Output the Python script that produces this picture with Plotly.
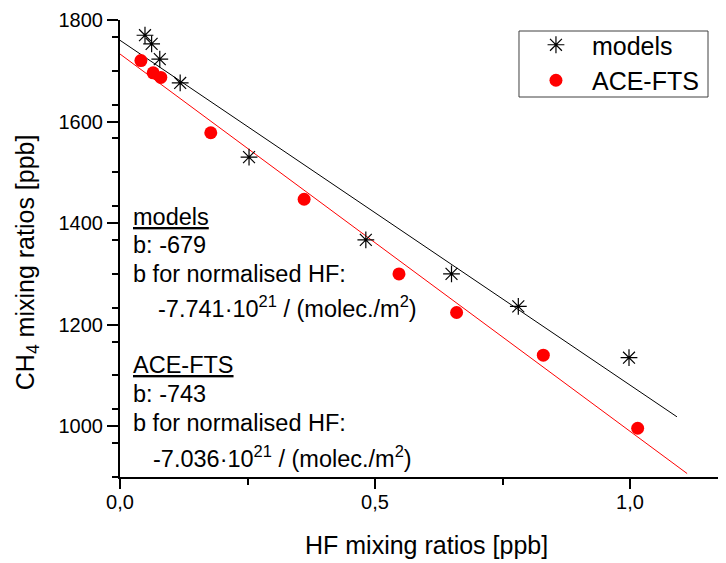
import numpy as np
import plotly.graph_objects as go

# ---- data ----
models_hf = [0.049, 0.062, 0.078, 0.118, 0.253, 0.482, 0.650, 0.781, 0.998]
models_ch4 = [1770, 1753, 1723, 1676, 1530, 1367, 1300, 1236, 1135]

ace_hf = [0.041, 0.065, 0.080, 0.178, 0.361, 0.547, 0.660, 0.830, 1.015]
ace_ch4 = [1720, 1696, 1687, 1578, 1447, 1300, 1224, 1140, 996]

# linear fits shown in the chart (slope b, intercept, x extent)
models_fit = {"slope": -679, "intercept": 1760, "x_end": 1.092}
ace_fit = {"slope": -743, "intercept": 1733, "x_end": 1.112}

x_tickvals = [0.0, 0.5, 1.0]
x_ticktext = ["0,0", "0,5", "1,0"]
y_tickvals = [1000, 1200, 1400, 1600, 1800]
y_ticktext = ["1000", "1200", "1400", "1600", "1800"]

models_text = ["<u>models</u>", "b: -679", "b for normalised HF:",
               "-7.741·10<sup>21</sup> / (molec./m<sup>2</sup>)"]
ace_text = ["<u>ACE-FTS</u>", "b: -743", "b for normalised HF:",
            "-7.036·10<sup>21</sup> / (molec./m<sup>2</sup>)"]

FONT = "Liberation Sans, Arial, sans-serif"

fig = go.Figure()

for fit, color in ((models_fit, "black"), (ace_fit, "#ff0000")):
    fx = np.array([0.0, fit["x_end"]])
    fy = fit["intercept"] + fit["slope"] * fx
    fig.add_trace(go.Scatter(x=fx, y=fy, mode="lines", showlegend=False,
                             line=dict(color=color, width=1), hoverinfo="skip"))

fig.add_trace(go.Scatter(
    x=models_hf, y=models_ch4, mode="markers", name="models",
    marker=dict(symbol="asterisk-open", size=14, color="black",
                line=dict(color="black", width=1.2))))
fig.add_trace(go.Scatter(
    x=ace_hf, y=ace_ch4, mode="markers", name="ACE-FTS",
    marker=dict(symbol="circle", size=13, color="#ff0000",
                line=dict(width=0))))

annotations = []
models_y = [1413, 1356, 1300, 1235]
ace_y = [1120, 1063, 1007, 939]
for i, t in enumerate(models_text):
    annotations.append(dict(x=0.071 if i == 3 else 0.022, y=models_y[i], xref="x", yref="y",
                            text=t, showarrow=False, xanchor="left", yanchor="middle",
                            font=dict(family=FONT, size=23.5, color="black")))
for i, t in enumerate(ace_text):
    annotations.append(dict(x=0.061 if i == 3 else 0.022, y=ace_y[i], xref="x", yref="y",
                            text=t, showarrow=False, xanchor="left", yanchor="middle",
                            font=dict(family=FONT, size=23.5, color="black")))
# axis titles
annotations.append(dict(x=0.5066, y=-0.1488, xref="paper", yref="paper",
                        text="HF mixing ratios [ppb]", showarrow=False,
                        xanchor="center", yanchor="middle",
                        font=dict(family=FONT, size=25, color="black")))
annotations.append(dict(x=-0.1535, y=0.47, xref="paper", yref="paper",
                        text="CH<sub>4</sub> mixing ratios [ppb]", showarrow=False,
                        textangle=-90, xanchor="center", yanchor="middle",
                        font=dict(family=FONT, size=25, color="black")))

# legend frame
shapes = [dict(type="rect", xref="paper", yref="paper",
               x0=0.6584, x1=0.9703, y0=0.8315, y1=0.9759,
               line=dict(color="#404040", width=1), fillcolor="rgba(0,0,0,0)",
               layer="above")]

# the page body adds an 8px margin, so the figure is drawn 8px smaller
fig.update_layout(
    width=718, height=555,
    margin=dict(l=112, r=0, t=12, b=86),
    paper_bgcolor="white", plot_bgcolor="white",
    font=dict(family=FONT, size=20, color="black"),
    showlegend=True,
    legend=dict(x=0.660, y=0.9956, xanchor="left", yanchor="top",
                bgcolor="rgba(0,0,0,0)", borderwidth=0,
                font=dict(family=FONT, size=25, color="black"),
                itemwidth=62, tracegroupgap=0),
    annotations=annotations,
    shapes=shapes,
    xaxis=dict(range=[0, 1.1882], showgrid=False, zeroline=False,
               showline=True, linecolor="black", linewidth=2,
               ticks="outside", ticklen=10, tickwidth=2, tickcolor="black",
               tickmode="array", tickvals=x_tickvals, ticktext=x_ticktext,
               tickfont=dict(family=FONT, size=20, color="black"),
               minor=dict(tickmode="array", tickvals=[0.25, 0.75],
                          ticks="outside", ticklen=6, tickwidth=2, tickcolor="black",
                          showgrid=False)),
    yaxis=dict(range=[900, 1800], showgrid=False, zeroline=False,
               showline=True, linecolor="black", linewidth=2,
               ticks="outside", ticklen=11, tickwidth=2, tickcolor="black",
               tickmode="array", tickvals=y_tickvals, ticktext=y_ticktext,
               tickfont=dict(family=FONT, size=20, color="black"),
               minor=dict(tickmode="array",
                          tickvals=[v for v in np.arange(900, 1801, 200 / 3)
                                    if round(v) % 200 != 0],
                          ticks="outside", ticklen=6, tickwidth=2, tickcolor="black",
                          showgrid=False)),
)
try:
    fig.update_xaxes(ticklabelstandoff=-4)
except Exception:
    pass

fig.write_html("out.html")
